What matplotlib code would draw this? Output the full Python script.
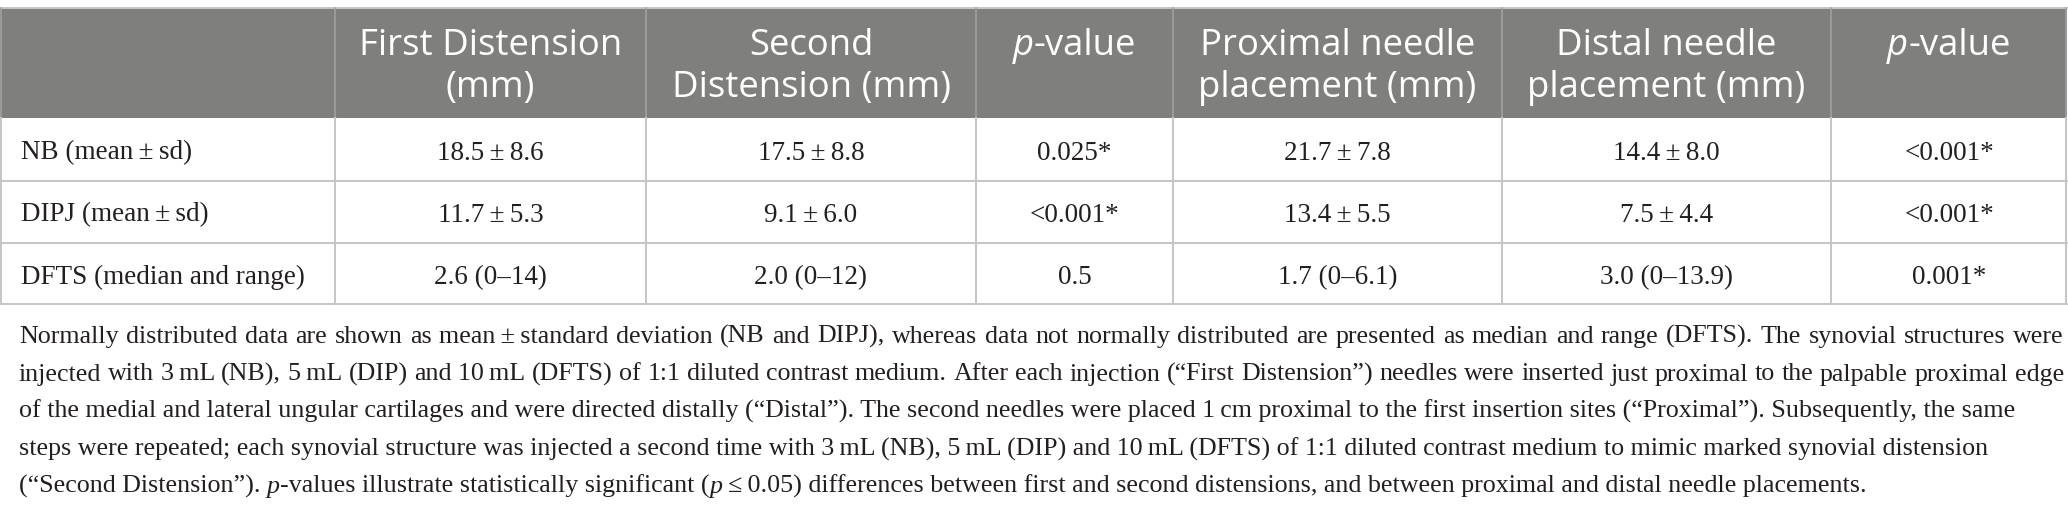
import matplotlib
matplotlib.use("Agg")
import matplotlib.pyplot as plt
from matplotlib.patches import Rectangle

#%% Datos de la tabla
col_bounds = [0, 335, 646, 976, 1173, 1502, 1831, 2067]

header_lines = [
    [],
    [[("First Distension", "normal")], [("(mm)", "normal")]],
    [[("Second", "normal")], [("Distension (mm)", "normal")]],
    [[("p", "italic"), ("-value", "normal")]],
    [[("Proximal needle", "normal")], [("placement (mm)", "normal")]],
    [[("Distal needle", "normal")], [("placement (mm)", "normal")]],
    [[("p", "italic"), ("-value", "normal")]],
]

row_labels = ["NB (mean\u2009±\u2009sd)", "DIPJ (mean\u2009±\u2009sd)", "DFTS (median and range)"]
first_dist = ["18.5\u2009±\u20098.6", "11.7\u2009±\u20095.3", "2.6 (0–14)"]
second_dist = ["17.5\u2009±\u20098.8", "9.1\u2009±\u20096.0", "2.0 (0–12)"]
p_dist = ["0.025*", "<0.001*", "0.5"]
prox_needle = ["21.7\u2009±\u20097.8", "13.4\u2009±\u20095.5", "1.7 (0–6.1)"]
distal_needle = ["14.4\u2009±\u20098.0", "7.5\u2009±\u20094.4", "3.0 (0–13.9)"]
p_needle = ["<0.001*", "<0.001*", "0.001*"]

caption = [
    [("Normally distributed data are shown as mean\u2009±\u2009standard deviation (NB and DIPJ), whereas data not normally distributed are presented as median and range (DFTS). The synovial structures were", "normal")],
    [("injected with 3\u2009mL (NB), 5\u2009mL (DIP) and 10\u2009mL (DFTS) of 1:1 diluted contrast medium. After each injection (“First Distension”) needles were inserted just proximal to the palpable proximal edge", "normal")],
    [("of the medial and lateral ungular cartilages and were directed distally (“Distal”). The second needles were placed 1\u2009cm proximal to the first insertion sites (“Proximal”). Subsequently, the same", "normal")],
    [("steps were repeated; each synovial structure was injected a second time with 3\u2009mL (NB), 5\u2009mL (DIP) and 10\u2009mL (DFTS) of 1:1 diluted contrast medium to mimic marked synovial distension", "normal")],
    [("(“Second Distension”). ", "normal"), ("p", "italic"), ("-values illustrate statistically significant (", "normal"),
     ("p\u2009", "italic"), ("≤\u20090.05) differences between first and second distensions, and between proximal and distal needle placements.", "normal")],
]
justified = [True, True, False, False, False]

#%% Estilo
W, H = 2068, 514
SANS = ["Open Sans", "DejaVu Sans"]
SERIF = ["Liberation Serif", "DejaVu Serif"]
header_color = "#7f807e"
line_color = "#c6c6c6"
text_color = "#231f20"
lw = 1.45  # ~2 px
cap_x0, cap_x1 = 19, 2064

fig = plt.figure(figsize=(W / 100, H / 100), dpi=100)
ax = fig.add_axes([0, 0, 1, 1])
ax.set_xlim(0, W)
ax.set_ylim(H, 0)
ax.axis("off")
renderer = fig.canvas.get_renderer()


def text_width(s, size, family, style):
    # medimos con barras a los lados para no perder espacios
    t = ax.text(0, 0, "|" + s + "|", fontsize=size, family=family, style=style)
    w = t.get_window_extent(renderer).width
    t.remove()
    t = ax.text(0, 0, "||", fontsize=size, family=family, style=style)
    w -= t.get_window_extent(renderer).width
    t.remove()
    return w


def draw_runs(x, y, runs, size, family, color, ha="left"):
    widths = [text_width(s, size, family, st) for s, st in runs]
    if ha == "center":
        x -= sum(widths) / 2
    for (s, st), w in zip(runs, widths):
        ax.text(x, y, s, fontsize=size, family=family, style=st, color=color,
                ha="left", va="baseline")
        x += w
    return sum(widths)


def draw_justified(x0, x1, y, s, size, family, color):
    words = s.split(" ")
    ws = [text_width(w, size, family, "normal") for w in words]
    gap = (x1 - x0 - sum(ws)) / (len(words) - 1)
    x = x0
    for w, wd in zip(words, ws):
        ax.text(x, y, w, fontsize=size, family=family, color=color,
                ha="left", va="baseline")
        x += wd + gap


# tamanos ajustados al ancho del original
widest = max(text_width(caption[k][0][0], 10, SERIF, "normal") for k in (0, 1))
cap_size = 10 * (cap_x1 - cap_x0 - 4) / widest
head_size = 10 * 279 / text_width("Distension (mm)", 10, SANS, "normal")
body_size = 10 * 284 / text_width(row_labels[2], 10, SERIF, "normal")

#%% Cabecera y lineas
top, head_bot = 8, 118
row_lines = [118, 180.5, 242.5, 304]
ax.add_patch(Rectangle((0, top), W - 1, head_bot - top, color=header_color, lw=0))
ax.plot([0, W - 1], [top, top], color=line_color, lw=lw)
for yl in row_lines[1:]:
    ax.plot([0, W - 1], [yl, yl], color=line_color, lw=lw)
for xb in col_bounds:
    xb = min(max(xb, 1), W - 2)
    ax.plot([xb, xb], [top, head_bot], color="#a3a3a3", lw=1.1)
    ax.plot([xb, xb], [head_bot, row_lines[-1]], color=line_color, lw=lw)

head_base = [55, 97]
for c, lines in enumerate(header_lines):
    xc = (col_bounds[c] + col_bounds[c + 1]) / 2
    for k, runs in enumerate(lines):
        draw_runs(xc, head_base[k], runs, head_size, SANS, "white", ha="center")

#%% Cuerpo
body_base = [159.5, 221.5, 284]
columns = [first_dist, second_dist, p_dist, prox_needle, distal_needle, p_needle]
for i, lab in enumerate(row_labels):
    draw_runs(21, body_base[i], [(lab, "normal")], body_size, SERIF, text_color)
    for c, col in enumerate(columns):
        xc = (col_bounds[c + 1] + col_bounds[c + 2]) / 2
        draw_runs(xc, body_base[i], [(col[i], "normal")], body_size, SERIF, text_color, ha="center")

#%% Pie de tabla
cap_base = [343, 380.5, 418, 455.5, 493]
for k, runs in enumerate(caption):
    if justified[k]:
        draw_justified(cap_x0, cap_x1, cap_base[k], runs[0][0], cap_size, SERIF, text_color)
    else:
        draw_runs(cap_x0, cap_base[k], runs, cap_size, SERIF, text_color)

fig.savefig("out.png", dpi=100)
